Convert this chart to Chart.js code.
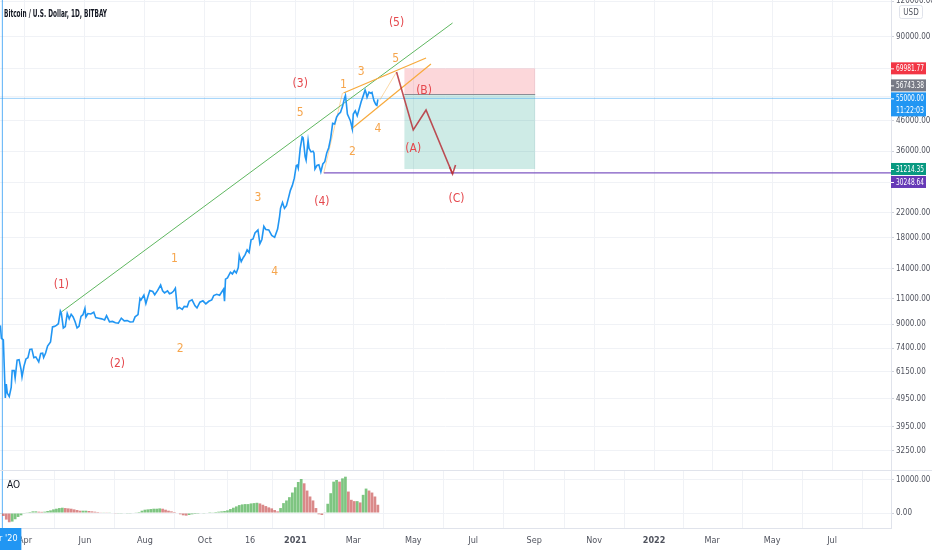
<!DOCTYPE html>
<html><head><meta charset="utf-8">
<script src="https://cdn.jsdelivr.net/npm/chart.js@4.4.0/dist/chart.umd.min.js"></script>
<style>
html,body{margin:0;padding:0;background:#fff;}
#wrap{position:relative;width:932px;height:550px;overflow:hidden;background:#fff;}
#main{position:absolute;left:0;top:0;}
#ao{position:absolute;left:0;top:470px;}
</style></head><body>
<div id="wrap">
<canvas id="main" width="932" height="470"></canvas>
<canvas id="ao" width="932" height="80"></canvas>
</div>
<script>
// ---------------- DATA ----------------
const priceDates = ["2020-03-07","2020-03-08","2020-03-10","2020-03-12","2020-03-13","2020-03-14","2020-03-16","2020-03-18","2020-03-19","2020-03-21","2020-03-22","2020-03-24","2020-03-26","2020-03-28","2020-03-29","2020-03-31",
"2020-04-02","2020-04-04","2020-04-06","2020-04-08","2020-04-10","2020-04-12","2020-04-15","2020-04-17","2020-04-19","2020-04-20","2020-04-22","2020-04-24","2020-04-27","2020-04-29","2020-05-01",
"2020-05-03","2020-05-05","2020-05-07","2020-05-08","2020-05-10","2020-05-12","2020-05-14","2020-05-16","2020-05-18","2020-05-20","2020-05-22","2020-05-24","2020-05-26","2020-05-28","2020-05-30",
"2020-06-01","2020-06-02","2020-06-04","2020-06-07","2020-06-10","2020-06-12","2020-06-15","2020-06-18","2020-06-21","2020-06-23","2020-06-26","2020-06-29",
"2020-07-02","2020-07-05","2020-07-08","2020-07-11","2020-07-14","2020-07-17","2020-07-20","2020-07-22","2020-07-25","2020-07-27","2020-07-28","2020-07-31",
"2020-08-02","2020-08-04","2020-08-06","2020-08-09","2020-08-11","2020-08-14","2020-08-17","2020-08-19","2020-08-21","2020-08-24","2020-08-26","2020-08-28","2020-08-30",
"2020-09-01","2020-09-03","2020-09-05","2020-09-08","2020-09-10","2020-09-13","2020-09-15","2020-09-18","2020-09-21","2020-09-23","2020-09-26","2020-09-29",
"2020-10-02","2020-10-05","2020-10-08","2020-10-10","2020-10-13","2020-10-16","2020-10-19","2020-10-20","2020-10-21","2020-10-22","2020-10-24","2020-10-27","2020-10-29","2020-10-31",
"2020-11-02","2020-11-04","2020-11-05","2020-11-07","2020-11-09","2020-11-11","2020-11-13","2020-11-15","2020-11-17","2020-11-19","2020-11-21","2020-11-24","2020-11-26","2020-11-28","2020-11-30",
"2020-12-02","2020-12-05","2020-12-08","2020-12-11","2020-12-14","2020-12-16","2020-12-17","2020-12-19","2020-12-21","2020-12-23","2020-12-25","2020-12-27","2020-12-29","2020-12-31",
"2021-01-02","2021-01-03","2021-01-04","2021-01-06","2021-01-08","2021-01-09","2021-01-11","2021-01-12","2021-01-14","2021-01-15","2021-01-17","2021-01-19","2021-01-20","2021-01-21","2021-01-23","2021-01-25","2021-01-27","2021-01-29","2021-01-31",
"2021-02-02","2021-02-04","2021-02-06","2021-02-08","2021-02-10","2021-02-12","2021-02-14","2021-02-16","2021-02-18","2021-02-20","2021-02-21","2021-02-22","2021-02-23","2021-02-25","2021-02-26","2021-02-28",
"2021-03-01","2021-03-03","2021-03-05","2021-03-07","2021-03-09","2021-03-11","2021-03-13","2021-03-14","2021-03-15","2021-03-17","2021-03-19","2021-03-20","2021-03-22","2021-03-24","2021-03-25","2021-03-26"];
const priceValues = [8900,8030,7930,4970,5560,5170,5030,5410,6190,6190,5830,6740,6760,6250,5880,6420,
6800,6870,7340,7360,6870,6910,6640,7100,7120,6880,7130,7540,7790,8790,8830,
8900,9020,9980,9810,8720,8820,9790,9380,9730,9520,9170,8720,8840,9570,9700,
10200,9520,9790,9750,9890,9470,9430,9380,9300,9630,9160,9190,
9090,9070,9430,9230,9250,9150,9160,9530,9700,11050,10920,11350,
10600,11200,11780,11680,11380,11780,12300,11750,11550,11750,11470,11540,11700,
12000,10170,10280,10120,10370,10330,10800,10930,10420,10240,10720,10840,
10580,10800,10920,11300,11420,11330,11750,11900,10800,12900,13030,13640,13450,13800,
13550,14150,15600,14850,15320,15700,16300,15960,17680,17800,18690,19150,17150,17730,19700,
19210,19150,18320,18040,19270,21300,22800,23850,22750,23240,24700,26300,27360,28990,
32100,32200,31400,36800,40400,40100,34500,33500,39200,36800,35800,36000,35500,31200,32100,32300,30500,32500,33100,
35500,37000,40000,45000,44800,47300,48500,49200,51500,55000,56300,52500,48500,46800,46000,43000,
48500,49800,47800,50500,53500,56000,58800,57500,55500,57800,57300,57700,54000,52300,52000,54600];

const aoDates = ["2020-03-07","2020-03-10","2020-03-13","2020-03-16","2020-03-19","2020-03-22","2020-03-25","2020-03-28","2020-03-31","2020-04-03","2020-04-06","2020-04-09","2020-04-12","2020-04-15","2020-04-18","2020-04-21","2020-04-24","2020-04-27","2020-04-30",
"2020-05-03","2020-05-06","2020-05-09","2020-05-12","2020-05-15","2020-05-18","2020-05-21","2020-05-24","2020-05-27","2020-05-30","2020-06-02","2020-06-05","2020-06-08","2020-06-11","2020-06-14","2020-06-17","2020-06-20","2020-06-23","2020-06-26","2020-06-29",
"2020-07-02","2020-07-05","2020-07-08","2020-07-11","2020-07-14","2020-07-17","2020-07-20","2020-07-23","2020-07-26","2020-07-29","2020-08-01","2020-08-04","2020-08-07","2020-08-10","2020-08-13","2020-08-16","2020-08-19","2020-08-22","2020-08-25","2020-08-28","2020-08-31",
"2020-09-03","2020-09-06","2020-09-09","2020-09-12","2020-09-15","2020-09-18","2020-09-21","2020-09-24","2020-09-27","2020-09-30","2020-10-03","2020-10-06","2020-10-09","2020-10-12","2020-10-15","2020-10-18","2020-10-21","2020-10-24","2020-10-27","2020-10-30",
"2020-11-02","2020-11-05","2020-11-08","2020-11-11","2020-11-14","2020-11-17","2020-11-20","2020-11-23","2020-11-26","2020-11-29","2020-12-02","2020-12-05","2020-12-08","2020-12-11","2020-12-14","2020-12-17","2020-12-20","2020-12-23","2020-12-26","2020-12-29",
"2021-01-01","2021-01-04","2021-01-07","2021-01-10","2021-01-13","2021-01-16","2021-01-19","2021-01-22","2021-01-25","2021-01-28","2021-01-31","2021-02-03","2021-02-06","2021-02-09","2021-02-12","2021-02-15","2021-02-18","2021-02-21","2021-02-24","2021-02-27",
"2021-03-02","2021-03-05","2021-03-08","2021-03-11","2021-03-14","2021-03-17","2021-03-20","2021-03-23","2021-03-26"];
const aoValues = [-200,-900,-2000,-2800,-2600,-1900,-1200,-700,-200,100,300,500,500,400,350,400,600,800,1100,
1300,1500,1600,1500,1400,1300,1100,900,700,700,700,600,500,400,300,200,200,100,100,0,
-100,-100,-100,-150,-100,-100,0,100,300,700,1000,1100,1200,1300,1300,1400,1300,1000,700,500,300,
0,-400,-700,-800,-600,-400,-300,-250,-150,-100,0,50,200,300,400,500,600,800,1200,1600,
2000,2400,2600,2700,2700,2900,3000,3100,2900,2500,2100,1700,1400,900,500,1500,3000,3800,4800,6200,
7800,9400,10300,9000,6800,5000,3800,1500,-400,-600,200,2800,6000,9500,10000,9500,10500,11000,6500,4000,
3600,3600,3200,5500,7400,6800,6200,5000,2500];

const yTickValues = [3250,3950,4950,6150,7400,9000,11000,14000,18000,22000,28000,36000,46000,56000,70000,90000,120000];
const yTickLabels = ["3250.00","3950.00","4950.00","6150.00","7400.00","9000.00","11000.00","14000.00","18000.00","22000.00","","36000.00","46000.00","","","90000.00","120000.00"];
const aoTickValues = [0,10000];
const aoTickLabels = ["0.00","10000.00"];
const xTickDates = ["2020-04-01","2020-06-01","2020-08-01","2020-10-01","2020-11-16","2021-01-01","2021-03-01","2021-05-01","2021-07-01","2021-09-01","2021-11-01","2022-01-01","2022-03-01","2022-05-01","2022-07-01"];
const xTickLabels = ["Apr","Jun","Aug","Oct","16","2021","Mar","May","Jul","Sep","Nov","2022","Mar","May","Jul"];

// drawings (in date / price coordinates)
const trendDates = ["2020-05-08","2021-06-10"];
const trendValues = [9909,100700];
const wedgeUpperDates = ["2021-02-19","2021-05-14"];
const wedgeUpperValues = [57430,76040];
const wedgeLowerDates = ["2021-02-27","2021-05-19"];
const wedgeLowerValues = [43020,72480];
const guideADates = ["2021-01-30","2021-02-18"];
const guideAValues = [30250,57430];
const guideBDates = ["2021-03-28","2021-04-14"];
const guideBValues = [54300,68000];
const projDates = ["2021-04-14","2021-05-01","2021-05-14","2021-06-10"];
const projValues = [68000,42700,50090,29990];
const arrowDates = ["2021-06-07","2021-06-10","2021-06-13"];
const arrowValues = [31710,29990,32220];
const boxDates = ["2021-04-22","2021-09-02"];
const stopValue = 69981.77, entryValue = 56743.38, targetValue = 31214.35;
const supportStart = "2021-01-30", supportValue = 30248.64;
const lastPrice = 55000.00, countdown = "11:22:03";
const crosshairDate = "2020-03-09", crosshairLabel = "Mar '20";
const tagValues = [69981.77, 56743.38, 55000.00, 31214.35, 30248.64];

const waveTexts = ["(5)","5","3","1","(3)","5","(B)","(A)","4","2","(4)","(C)","3","1","4","(1)","(2)","2"];
const waveDates = ["2021-04-14","2021-04-13","2021-03-09","2021-02-19","2021-01-06","2021-01-06","2021-05-12","2021-05-01","2021-03-26","2021-02-28","2021-01-28","2021-06-14","2020-11-24","2020-08-31","2020-12-11","2020-05-08","2020-07-04","2020-09-06"];
const waveValues = [100440,75440,68130,61220,61730,49050,58330,36640,43020,35860,24010,24540,24790,15160,13690,12310,6530,7364];
const waveMajor = [true,false,false,false,true,false,true,true,false,false,true,true,false,false,false,true,true,false];

const titleText = "Bitcoin / U.S. Dollar, 1D, BITBAY";

// ---------------- HELPERS ----------------
const EPOCH = Date.UTC(2020,3,1);
function day(s){const p=s.split('-').map(Number);return (Date.UTC(p[0],p[1]-1,p[2])-EPOCH)/864e5;}
function pts(ds,vs){return ds.map((d,i)=>({x:day(d),y:vs[i]}));}
const X_MIN=-25.4, X_MAX=881;
const Y_MIN=2790, Y_MAX=121080;
const AO_MIN=-4545, AO_MAX=13030;
const FONT = "'Liberation Sans Narrow','DejaVu Sans Condensed','Liberation Sans',sans-serif";
Chart.defaults.font.family = FONT;
const GRID = '#f0f2f6';
const BORDER = '#e0e3eb';
const AXIS_TXT = '#50535e';

function lineDs(data,color,width,extra){return Object.assign({type:'line',data,borderColor:color,borderWidth:width,pointRadius:0,fill:false,tension:0},extra||{});}

const xTicksBuilder = s=>{s.ticks = xTickDates.map(d=>({value:day(d)}));};

// ---------------- MAIN CHART ----------------
const mainOverlay = {
  id:'mainOverlay',
  beforeDatasetsDraw(chart){
    const {ctx, scales:{x,y}} = chart;
    const x0=x.getPixelForValue(day(boxDates[0])), x1=x.getPixelForValue(day(boxDates[1]));
    const yS=y.getPixelForValue(stopValue), yE=y.getPixelForValue(entryValue), yT=y.getPixelForValue(targetValue);
    ctx.save();
    ctx.fillStyle='rgba(242,54,69,0.2)'; ctx.fillRect(x0,yS,x1-x0,yE-yS);
    ctx.fillStyle='rgba(8,153,129,0.2)'; ctx.fillRect(x0,yE,x1-x0,yT-yE);
    ctx.strokeStyle='#8a8d96'; ctx.lineWidth=1; ctx.beginPath(); ctx.moveTo(x0,Math.round(yE)+0.5); ctx.lineTo(x1,Math.round(yE)+0.5); ctx.stroke();
    ctx.restore();
  },
  afterDatasetsDraw(chart){
    const {ctx, scales:{x,y}} = chart;
    ctx.save();
    ctx.textAlign='center'; ctx.textBaseline='middle';
    ctx.font = "12px "+FONT;
    waveTexts.forEach((t,i)=>{
      ctx.fillStyle = waveMajor[i] ? '#e5484d' : '#f6a54c';
      ctx.fillText(t, x.getPixelForValue(day(waveDates[i])), y.getPixelForValue(waveValues[i]));
    });
    ctx.restore();
  },
  afterDraw(chart){
    const {ctx, chartArea, scales:{y}} = chart;
    ctx.save();
    // title
    ctx.fillStyle='#131722'; ctx.font="bold 10.5px "+FONT; ctx.textBaseline='middle'; ctx.textAlign='left';
    ctx.fillText(titleText, 4, 14, 103);
    // USD box
    const ux=chartArea.right+8;
    ctx.fillStyle='#fff'; ctx.strokeStyle=BORDER; ctx.lineWidth=1;
    ctx.beginPath(); ctx.roundRect(ux+0.5,5.5,23,13,2); ctx.fill(); ctx.stroke();
    ctx.fillStyle=AXIS_TXT; ctx.font="8px "+FONT; ctx.textAlign='center';
    ctx.fillText('USD', ux+12, 12.5, 18);
    // price tags
    const colors=['#f23645','#787b86','#2196f3','#089981','#673ab7'];
    const items=tagValues.map((v,i)=>({i,top:y.getPixelForValue(v)-6,h:(v===lastPrice)?24:12}));
    const sorted=[...items].sort((a,b)=>a.top-b.top);
    const ai=sorted.findIndex(t=>tagValues[t.i]===lastPrice);
    for(let k=ai+1;k<sorted.length;k++){const p=sorted[k-1]; if(sorted[k].top<p.top+p.h+1) sorted[k].top=p.top+p.h+1;}
    for(let k=ai-1;k>=0;k--){const n=sorted[k+1]; if(sorted[k].top+sorted[k].h+1>n.top) sorted[k].top=n.top-sorted[k].h-1;}
    ctx.font="8.5px "+FONT; ctx.textAlign='center';
    items.forEach(t=>{
      const x0=chartArea.right, w=35;
      ctx.fillStyle=colors[t.i];
      ctx.fillRect(x0,t.top,w,t.h);
      ctx.fillStyle='#fff';
      ctx.fillText(tagValues[t.i].toFixed(2), x0+w/2+1.5, t.top+6.5, 28);
      if(t.h>12) ctx.fillText(countdown, x0+w/2+1.5, t.top+18.5, 28);
      ctx.fillRect(x0,t.top+6,3,1);
    });
    ctx.restore();
  }
};

new Chart(document.getElementById('main'), {
  type:'line',
  data:{datasets:[
    lineDs(pts(priceDates,priceValues),'#2196f3',1.6),
    lineDs(pts(projDates,projValues),'rgba(183,48,56,0.85)',1.6),
    lineDs(pts(arrowDates,arrowValues),'rgba(183,48,56,0.85)',1.6),
    lineDs(pts(wedgeUpperDates,wedgeUpperValues),'#f7a93b',1.2),
    lineDs(pts(wedgeLowerDates,wedgeLowerValues),'#f7a93b',1.2),
    lineDs(pts(guideADates,guideAValues),'rgba(247,169,59,0.45)',1),
    lineDs(pts(guideBDates,guideBValues),'rgba(247,169,59,0.45)',1),
    lineDs(pts(trendDates,trendValues),'#5fb760',1),
    lineDs([{x:day(supportStart),y:supportValue},{x:X_MAX,y:supportValue}],'#7e57c2',1.2),
    lineDs([{x:X_MIN,y:lastPrice},{x:X_MAX,y:lastPrice}],'rgba(33,150,243,0.45)',1),
    lineDs([{x:day(crosshairDate),y:Y_MIN},{x:day(crosshairDate),y:Y_MAX}],'rgba(33,150,243,0.75)',1)
  ]},
  options:{
    responsive:false, animation:false, events:[],
    layout:{padding:0},
    plugins:{legend:{display:false},tooltip:{enabled:false}},
    scales:{
      x:{type:'linear',min:X_MIN,max:X_MAX,afterBuildTicks:xTicksBuilder,
         ticks:{display:false},grid:{color:GRID,drawTicks:false},border:{display:false},
         afterFit:s=>{s.height=0;s.paddingLeft=0;s.paddingRight=0;}},
      y:{type:'logarithmic',position:'right',min:Y_MIN,max:Y_MAX,
         afterBuildTicks:s=>{s.ticks=yTickValues.map(v=>({value:v}));},
         ticks:{autoSkip:false,callback:(v,i)=>yTickLabels[i],font:{size:8},color:AXIS_TXT,padding:2},
         grid:{color:GRID,tickLength:3,tickColor:'#d0d3db'},border:{display:true,color:BORDER},
         afterFit:s=>{s.width=41;s.paddingTop=0;s.paddingBottom=0;}}
    }
  },
  plugins:[mainOverlay]
});

// ---------------- AO CHART ----------------
const aoColors = aoValues.map((v,i)=> (i===0 || v>=aoValues[i-1]) ? 'rgba(76,175,80,0.72)' : 'rgba(204,92,92,0.72)');
const aoOverlay = {
  id:'aoOverlay',
  afterDraw(chart){
    const {ctx, chartArea, scales:{x}} = chart;
    ctx.save();
    ctx.strokeStyle=BORDER; ctx.lineWidth=1;
    ctx.beginPath(); ctx.moveTo(0,0.5); ctx.lineTo(chart.width,0.5); ctx.stroke();
    ctx.fillStyle='#131722'; ctx.font="10px "+FONT; ctx.textAlign='left'; ctx.textBaseline='middle';
    ctx.fillText('AO', 7, 15);
    const cx=x.getPixelForValue(day(crosshairDate));
    ctx.fillStyle='#2196f3'; ctx.fillRect(cx-19,chartArea.bottom,38,chart.height-chartArea.bottom);
    ctx.fillStyle='#fff'; ctx.font="9px "+FONT; ctx.textAlign='center';
    ctx.fillText(crosshairLabel, cx, chartArea.bottom+11);
    ctx.restore();
  }
};
new Chart(document.getElementById('ao'), {
  type:'bar',
  data:{datasets:[
    {type:'bar',data:pts(aoDates,aoValues),backgroundColor:aoColors,borderWidth:0,barPercentage:0.92,categoryPercentage:1},
    lineDs([{x:day(crosshairDate),y:AO_MIN},{x:day(crosshairDate),y:AO_MAX}],'rgba(33,150,243,0.75)',1)
  ]},
  options:{
    responsive:false, animation:false, events:[],
    layout:{padding:0},
    plugins:{legend:{display:false},tooltip:{enabled:false}},
    scales:{
      x:{type:'linear',min:X_MIN,max:X_MAX,afterBuildTicks:xTicksBuilder,offset:false,
         ticks:{autoSkip:false,maxRotation:0,callback:(v,i)=>xTickLabels[i],color:AXIS_TXT,padding:7,
                font:(c)=>({size:9,weight:(/^20\d\d$/.test(xTickLabels[c.index]||''))?'bold':'normal'})},
         grid:{color:GRID,drawTicks:false},border:{display:true,color:BORDER},
         afterFit:s=>{s.height=22;s.paddingLeft=0;s.paddingRight=0;}},
      y:{position:'right',min:AO_MIN,max:AO_MAX,
         afterBuildTicks:s=>{s.ticks=aoTickValues.map(v=>({value:v}));},
         ticks:{autoSkip:false,callback:(v,i)=>aoTickLabels[i],font:{size:8},color:AXIS_TXT,padding:2},
         grid:{color:GRID,tickLength:3,tickColor:'#d0d3db'},border:{display:true,color:BORDER},
         afterFit:s=>{s.width=41;s.paddingTop=0;s.paddingBottom=0;}}
    }
  },
  plugins:[aoOverlay]
});
</script>
</body></html>
